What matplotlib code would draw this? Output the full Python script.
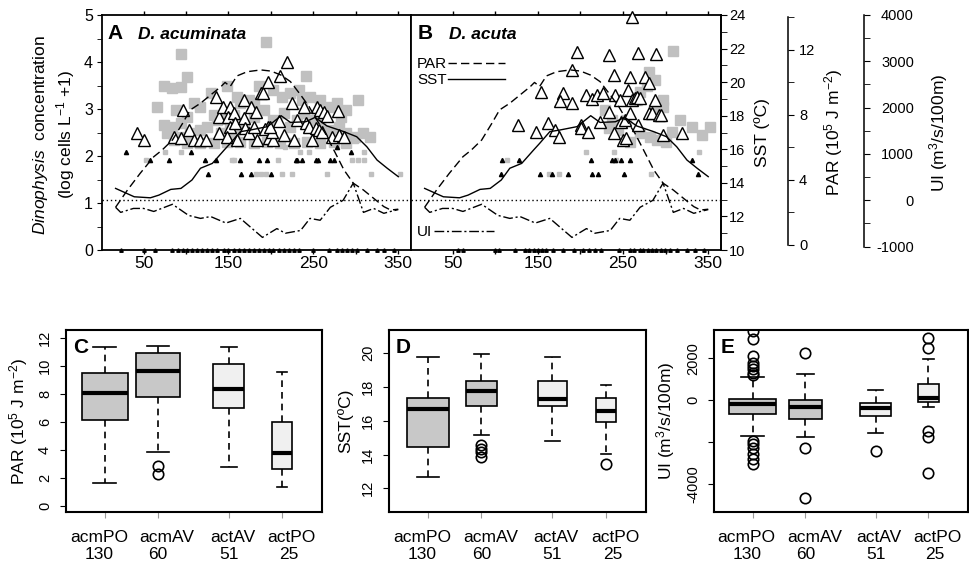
import numpy as np
import matplotlib
matplotlib.use("Agg")
import matplotlib.pyplot as plt
import matplotlib.transforms as mtransforms

plt.rcParams['font.family'] = ['Liberation Sans', 'DejaVu Sans']
plt.rcParams['mathtext.fontset'] = 'custom'
plt.rcParams['mathtext.rm'] = 'Liberation Sans'
plt.rcParams['mathtext.it'] = 'Liberation Sans:italic'
plt.rcParams['mathtext.bf'] = 'Liberation Sans:bold'

# ---- environmental climatology (day of year) ----
sst_day = [17, 39, 58, 68, 82, 94, 107, 117, 131, 145, 152, 164, 176, 196, 212,
           223, 241, 252, 266, 286, 301, 313, 325, 337, 350]
sst_val = [13.67, 13.17, 13.11, 13.27, 13.61, 13.67, 14.17, 14.87, 15.16, 15.96,
           16.35, 17.05, 17.15, 17.35, 18.0, 17.6, 17.64, 17.9, 17.39, 17.05,
           16.75, 16.15, 15.36, 14.87, 14.37]

par_day = [17, 31, 46, 62, 72, 84, 96, 105, 117, 129, 141, 146, 152, 160, 172,
           188, 200, 212, 223, 235, 245, 254, 264, 274, 286, 297, 309, 321, 333,
           341, 350]
par_val = [2.32, 3.38, 4.41, 5.43, 5.85, 6.46, 7.49, 8.31, 8.72, 9.23, 9.74,
           10.0, 9.75, 10.4, 10.66, 10.77, 10.7, 10.45, 10.05, 9.23, 8.51, 7.69,
           6.87, 5.85, 4.62, 3.80, 3.38, 2.87, 2.36, 2.15, 2.20]

ui_day = [17, 23, 38, 50, 62, 84, 103, 117, 129, 147, 164, 176, 190, 207, 217,
          235, 246, 258, 270, 285, 297, 309, 321, 333, 341, 350]
ui_val = [-150, -260, -175, -175, -240, -85, -325, -390, -350, -490, -390, -580,
          -800, -610, -710, -650, -390, -430, -150, 0, 370, -260, -175, -280,
          -240, -200]

# ---- D. acuminata (panel A) ----
acm_sq_day = [194, 94, 101, 241, 74, 84, 94, 66, 88, 109, 117, 74, 84, 94, 101,
              129, 148, 133, 164, 174, 180, 186, 156, 160, 203, 213, 223, 233,
              237, 246, 258, 268, 278, 289, 303, 86, 95, 105, 117, 125, 137, 144,
              156, 168, 180, 192, 203, 215, 223, 231, 239, 250, 258, 270, 280,
              289, 299, 309, 101, 117, 133, 148, 164, 180, 195, 211, 227, 242,
              258, 274, 289, 78, 141, 152, 317, 282, 297]
acm_sq_val = [4.43, 4.17, 3.69, 3.70, 3.49, 3.44, 3.46, 3.04, 2.98, 3.12, 3.05,
              2.66, 2.62, 2.70, 2.84, 3.33, 3.48, 2.87, 3.12, 3.19, 3.12, 3.48,
              2.87, 3.26, 3.40, 3.26, 3.33, 3.40, 3.19, 3.26, 3.19, 3.05, 3.12,
              2.98, 3.19, 2.34, 2.41, 2.48, 2.55, 2.62, 2.77, 2.84, 2.52, 2.62,
              2.84, 2.98, 2.77, 2.91, 2.62, 2.77, 2.91, 2.77, 2.70, 2.55, 2.62,
              2.48, 2.41, 2.48, 2.27, 2.27, 2.27, 2.30, 2.30, 2.27, 2.30, 2.27,
              2.27, 2.30, 2.27, 2.30, 2.27, 2.48, 2.48, 2.62, 2.41, 2.84, 2.38]

acm_tri_day = [42, 50, 86, 94, 97, 103, 109, 117, 123, 135, 139, 139, 144, 152,
               150, 152, 156, 158, 160, 148, 168, 168, 170, 176, 174, 182, 180,
               188, 191, 196, 196, 184, 193, 198, 202, 201, 199, 209, 211, 219,
               215, 225, 227, 231, 239, 241, 245, 248, 253, 254, 257, 258, 260,
               262, 266, 272, 279, 280, 286]
acm_tri_val = [2.48, 2.34, 2.41, 2.38, 2.98, 2.55, 2.34, 2.34, 2.34, 3.26, 2.84,
               2.48, 3.05, 3.05, 2.84, 2.62, 2.91, 2.70, 2.34, 2.41, 3.19, 2.80,
               2.59, 3.05, 2.48, 2.94, 2.62, 3.33, 3.33, 3.57, 2.62, 2.34, 2.57,
               2.38, 2.34, 2.52, 2.62, 2.75, 3.70, 3.99, 2.45, 3.12, 2.34, 2.77,
               3.05, 2.70, 2.62, 2.34, 2.59, 3.05, 2.55, 2.98, 2.52, 2.94, 2.85,
               2.41, 2.96, 2.45, 2.41]

acm_blk_day = [29, 106, 294, 278, 57, 80, 122, 135, 164, 186, 195, 229, 231, 237,
               253, 256, 269, 274, 126, 165, 177, 200]
acm_blk_val = [2.09, 2.09, 2.09, 2.2, 1.91, 1.91, 1.91, 1.91, 1.91, 1.91, 1.91,
               1.91, 1.91, 1.91, 1.91, 1.91, 1.91, 1.91, 1.62, 1.62, 1.62, 1.62]
acm_gry_day = [75, 94, 234, 245, 310, 217, 53, 154, 157, 208, 295, 303, 310, 182,
               188, 194, 213, 225, 266, 318, 352]
acm_gry_val = [2.09, 2.09, 2.09, 2.09, 2.09, 2.2, 1.91, 1.91, 1.91, 1.91, 1.91,
               1.91, 1.91, 1.62, 1.62, 1.62, 1.62, 1.62, 1.62, 1.62, 1.62]
acm_zero_day = [23, 50, 64, 84, 90, 96, 101, 107, 113, 119, 125, 131, 137, 145,
                150, 156, 162, 168, 174, 180, 186, 192, 198, 203, 209, 215, 221,
                227, 233, 250, 268, 278, 284, 290, 296, 301, 313, 325, 333, 345]

# ---- D. acuta (panel B) ----
act_sq_day = [309, 280, 288, 278, 270, 266, 297, 297, 286, 229, 237, 233, 244,
              254, 270, 258, 282, 290, 301, 307, 317, 331, 343, 352]
act_sq_val = [4.24, 3.79, 3.62, 3.48, 3.37, 3.19, 3.19, 3.05, 2.98, 2.98, 2.77,
              2.59, 2.55, 2.77, 2.48, 2.30, 2.41, 2.34, 2.30, 2.52, 2.77, 2.62,
              2.45, 2.62]

act_tri_day = [261, 196, 233, 268, 289, 190, 154, 127, 148, 162, 170, 175, 180,
               176, 190, 201, 201, 209, 207, 213, 219, 227, 223, 233, 239, 241,
               239, 246, 248, 250, 252, 256, 258, 258, 260, 264, 266, 268, 270,
               276, 280, 280, 284, 288, 292, 294, 297, 319, 254]
act_tri_val = [4.95, 4.22, 4.15, 4.20, 4.17, 3.84, 3.37, 2.66, 2.52, 2.70, 2.55,
               2.41, 3.33, 3.16, 3.12, 2.66, 2.59, 2.52, 3.30, 3.21, 3.30, 3.33,
               2.73, 2.94, 3.72, 3.30, 2.48, 3.19, 2.73, 2.35, 2.77, 3.40, 3.69,
               2.91, 3.19, 3.23, 3.26, 2.66, 3.23, 3.69, 3.55, 2.91, 2.91, 3.19,
               2.87, 2.87, 2.45, 2.48, 2.38]

act_blk_day = [108, 128, 212, 237, 240, 248, 258, 331, 107, 152, 167, 185, 214,
               220, 251, 338]
act_blk_val = [1.91, 1.91, 1.91, 1.91, 1.91, 1.91, 1.91, 1.91, 1.62, 1.62, 1.62,
               1.62, 1.62, 1.62, 1.62, 1.62]
act_gry_day = [114, 242, 163, 175, 283, 207, 239, 339]
act_gry_val = [1.91, 1.91, 1.62, 1.62, 1.62, 2.09, 2.09, 2.09]
act_zero_day = [56, 62, 100, 104, 123, 135, 140, 145, 150, 155, 160, 168, 180,
                192, 203, 210, 217, 224, 245, 258, 263, 270, 274, 279, 284, 289,
                294, 299, 305, 313, 325, 335, 345]

# ---- box plot summaries (C: PAR, D: SST, E: UI) ----
group_names = ['acmPO', 'acmAV', 'actAV', 'actPO']
group_n = ['130', '60', '51', '25']
box_colors = ['#c8c8c8', '#c8c8c8', '#f0f0f0', '#f0f0f0']

par_med = [8.10, 9.67, 8.36, 3.76]
par_q1 = [6.14, 7.81, 6.98, 2.62]
par_q3 = [9.52, 10.9, 10.14, 6.02]
par_lo = [1.67, 3.88, 2.81, 1.38]
par_hi = [11.33, 11.43, 11.33, 9.6]
par_out = [[], [2.88, 2.29], [], []]

sst_med = [16.70, 17.78, 17.29, 16.58]
sst_q1 = [14.47, 16.90, 16.90, 15.91]
sst_q3 = [17.33, 18.38, 18.38, 17.33]
sst_lo = [12.69, 15.16, 14.82, 14.03]
sst_hi = [19.76, 19.96, 19.80, 18.12]
sst_out = [[], [14.57, 14.35, 14.17, 13.87], [], [13.44]]

ui_med = [-190, -319, -381, 124]
ui_q1 = [-667, -905, -747, -81]
ui_q3 = [48, 0, -143, 762]
ui_lo = [-1700, -1747, -1571, -319]
ui_hi = [1109, 1266, 476, 1950]
ui_out = [[3300, 2900, 2110, 1790, 1630, 1475, 1313, 1204,
           -1937, -2095, -2256, -2570, -2810, -3046],
          [2266, -2256, -4636], [-2413], [2950, 2500, -1461, -1747, -3475]]

fig = plt.figure(figsize=(9.7, 5.66), dpi=100)
W, H = 970.0, 566.0

axA = fig.add_axes([102 / W, 1 - 250 / H, 309 / W, 235 / H])
axB = fig.add_axes([411 / W, 1 - 250 / H, 310 / W, 235 / H])


def top_panel(ax, sq_d, sq_v, tri_d, tri_v, blk_d, blk_v, gry_d, gry_v, zero_d):
    ax.plot(sq_d, sq_v, 's', ms=6.5, color='#c0c0c0', zorder=2)
    ax.plot(gry_d, gry_v, 's', ms=3.5, color='#c0c0c0', zorder=2)
    ax.plot(blk_d, blk_v, '^', ms=3, color='black', zorder=3)
    ax.plot(zero_d, np.zeros(len(zero_d)), '^', ms=2.5, color='black',
            clip_on=False, zorder=3)
    ax.plot(tri_d, tri_v, '^', ms=8, mfc='white', mec='black', mew=1,
            clip_on=False, zorder=4)
    ax.set_xlim(1, 365)
    ax.set_ylim(0, 5)
    ax.set_xticks([50, 150, 250, 350])
    ax.set_xticks([100, 200, 300], minor=True)
    ax.tick_params(axis='x', which='both', direction='out', top=True,
                   length=3, width=1, labelsize=12.5, pad=1)
    for s in ax.spines.values():
        s.set_linewidth(1.3)

    t_sst = ax.twinx()
    t_par = ax.twinx()
    t_ui = ax.twinx()
    t_sst.set_ylim(10, 24)
    t_par.set_ylim(-0.31, 14.15)
    t_ui.set_ylim(-1072, 4000)
    l_sst, = t_sst.plot(sst_day, sst_val, color='black', lw=1)
    l_par, = t_par.plot(par_day, par_val, color='black', lw=1, ls=(0, (6, 3)))
    l_ui, = t_ui.plot(ui_day, ui_val, color='black', lw=1,
                      ls=(0, (7, 2, 1.5, 2)))
    t_ui.axhline(0, color='black', lw=1, ls=(0, (1, 2)))
    return t_sst, t_par, t_ui, l_sst, l_par, l_ui


twA = top_panel(axA, acm_sq_day, acm_sq_val, acm_tri_day, acm_tri_val,
                acm_blk_day, acm_blk_val, acm_gry_day, acm_gry_val, acm_zero_day)
for t in twA[:3]:
    t.axis('off')

twB = top_panel(axB, act_sq_day, act_sq_val, act_tri_day, act_tri_val,
                act_blk_day, act_blk_val, act_gry_day, act_gry_val, act_zero_day)

# left axis of A
axA.set_yticks([0, 1, 2, 3, 4, 5])
axA.set_yticks([0.5, 1.5, 2.5, 3.5, 4.5], minor=True)
axA.tick_params(axis='y', which='both', direction='out', length=3.5,
                labelsize=11.5, pad=3, right=False)
axA.set_ylabel('$\\it{Dinophysis}$  concentration\n(log cells L$^{-1}$ +1)',
               fontsize=12.5, linespacing=1.25)
axA.yaxis.set_label_coords(-0.08, 0.49)
axB.tick_params(axis='y', which='both', left=False, labelleft=False,
                right=False, labelright=False)

axA.text(0.017, 0.897, 'A', transform=axA.transAxes, fontsize=15,
         fontweight='bold')
axA.text(0.117, 0.897, 'D. acuminata', transform=axA.transAxes, fontsize=12.5,
         fontweight='bold', fontstyle='italic')
axB.text(0.02, 0.897, 'B', transform=axB.transAxes, fontsize=15,
         fontweight='bold')
axB.text(0.123, 0.897, 'D. acuta', transform=axB.transAxes, fontsize=12.5,
         fontweight='bold', fontstyle='italic')

# right-hand axes of B
t_sst, t_par, t_ui, l_sst, l_par, l_ui = twB
for t in (t_sst, t_par, t_ui):
    for side in ('top', 'bottom', 'left'):
        t.spines[side].set_visible(False)
    t.spines['right'].set_linewidth(1.1)

t_sst.set_yticks([10, 12, 14, 16, 18, 20, 22, 24])
t_sst.set_yticks([11, 13, 15, 17, 19, 21, 23], minor=True)
t_sst.tick_params(axis='y', which='both', length=4, labelsize=10.5, pad=2)
t_sst.set_ylabel('SST (ºC)', fontsize=12.5)
t_sst.yaxis.set_label_coords(1.108, 0.5)

t_par.spines['right'].set_position(('axes', 1.216))
t_par.spines['right'].set_bounds(0, 14)
t_par.set_yticks([0, 4, 8, 12])
t_par.set_yticks([2, 6, 10, 14], minor=True)
t_par.tick_params(axis='y', which='both', length=4, labelsize=10.5, pad=4)
t_par.set_ylabel('PAR (10$^5$ J m$^{-2}$)', fontsize=12.5)
t_par.yaxis.set_label_coords(1.327, 0.5)

t_ui.spines['right'].set_position(('axes', 1.461))
t_ui.spines['right'].set_bounds(-1000, 4000)
ui_ticks = [-1000, 0, 1000, 2000, 3000, 4000]
t_ui.set_yticks(ui_ticks)
t_ui.set_yticklabels([str(v) for v in ui_ticks], ha='right')
t_ui.set_yticks([-500, 500, 1500, 2500, 3500], minor=True)
t_ui.tick_params(axis='y', which='both', length=4, labelsize=10.5, pad=32)
t_ui.set_ylabel('UI (m$^3$/s/100m)', fontsize=12.5)
t_ui.yaxis.set_label_coords(1.666, 0.5)

leg1 = axB.legend(handles=[l_par, l_sst], labels=['PAR', 'SST'],
                  loc='upper left', bbox_to_anchor=(0.02, 0.82),
                  frameon=False, markerfirst=False, handlelength=3.7,
                  handletextpad=0.05, borderpad=0, borderaxespad=0,
                  labelspacing=0.12, fontsize=11)
axB.add_artist(leg1)
axB.legend(handles=[l_ui], labels=['UI'], loc='lower left',
           bbox_to_anchor=(0.02, 0.045), frameon=False, markerfirst=False,
           handlelength=3.9, handletextpad=0.1, borderpad=0, borderaxespad=0,
           fontsize=11)

# ---- box plots ----
box_pos = [1, 2, 3.33, 4.33]
name_pos = [0.89, 2.17, 3.40, 4.50]
n_pos = [0.89, 2.0, 3.33, 4.46]


def box_panel(rect, letter, med, q1, q3, lo, hi, out, widths, ylim, yticks,
              yticklabels, ylabel, label_x):
    ax = fig.add_axes(rect)
    stats = []
    for i in range(4):
        stats.append(dict(med=med[i], q1=q1[i], q3=q3[i], whislo=lo[i],
                          whishi=hi[i], fliers=out[i]))
    bp = ax.bxp(stats, positions=box_pos, widths=widths,
                capwidths=[w * 0.5 for w in widths], patch_artist=True,
                boxprops=dict(edgecolor='black', linewidth=1.2),
                medianprops=dict(color='black', linewidth=3,
                                 solid_capstyle='butt'),
                whiskerprops=dict(color='black', linewidth=1.2,
                                  linestyle=(0, (4, 3))),
                capprops=dict(color='black', linewidth=1.2),
                flierprops=dict(marker='o', markerfacecolor='none',
                                markeredgecolor='black', markersize=7.5,
                                markeredgewidth=1.2))
    for patch, c in zip(bp['boxes'], box_colors):
        patch.set_facecolor(c)
    ax.set_xlim(0.27, 5.08)
    ax.set_ylim(*ylim)
    ax.set_xticks(box_pos, ['', '', '', ''])
    ax.tick_params(axis='x', color='#999999', length=4)
    trans = mtransforms.blended_transform_factory(ax.transData, ax.transAxes)
    for x, s in zip(name_pos, group_names):
        ax.text(x, -0.097, s, transform=trans, ha='center', va='top',
                fontsize=12.5)
    for x, s in zip(n_pos, group_n):
        ax.text(x, -0.19, s, transform=trans, ha='center', va='top',
                fontsize=12.5)
    ax.set_yticks(yticks, yticklabels, rotation=90, va='center')
    ax.tick_params(axis='y', length=4, labelsize=10.5, pad=6)
    for s in ax.spines.values():
        s.set_linewidth(1.5)
    ax.set_ylabel(ylabel, fontsize=12.5)
    ax.yaxis.set_label_coords(label_x, 0.5)
    ax.text(0.026, 0.874, letter, transform=ax.transAxes, fontsize=15,
            fontweight='bold')
    return ax


box_panel([66 / W, 1 - 512 / H, 256 / W, 182 / H], 'C', par_med, par_q1,
          par_q3, par_lo, par_hi, par_out, [0.87, 0.83, 0.58, 0.38],
          (-0.43, 12.57), [0, 2, 4, 6, 8, 10, 12],
          ['0', '2', '4', '6', '8', '10', '12'],
          'PAR (10$^5$ J m$^{-2}$)', -0.14)
box_panel([389 / W, 1 - 512 / H, 257 / W, 182 / H], 'D', sst_med, sst_q1,
          sst_q3, sst_lo, sst_hi, sst_out, [0.80, 0.59, 0.56, 0.38],
          (10.6, 21.38), [12, 14, 16, 18, 20], ['12', '14', '16', '18', '20'],
          'SST(ºC)', -0.14)
box_panel([714 / W, 1 - 512 / H, 254 / W, 182 / H], 'E', ui_med, ui_q1,
          ui_q3, ui_lo, ui_hi, ui_out, [0.88, 0.62, 0.58, 0.39],
          (-5317, 3346), [2000, 0, -2000, -4000], ['2000', '0', '', '-4000'],
          'UI (m$^3$/s/100m)', -0.146)

fig.savefig('out.png', dpi=100)
